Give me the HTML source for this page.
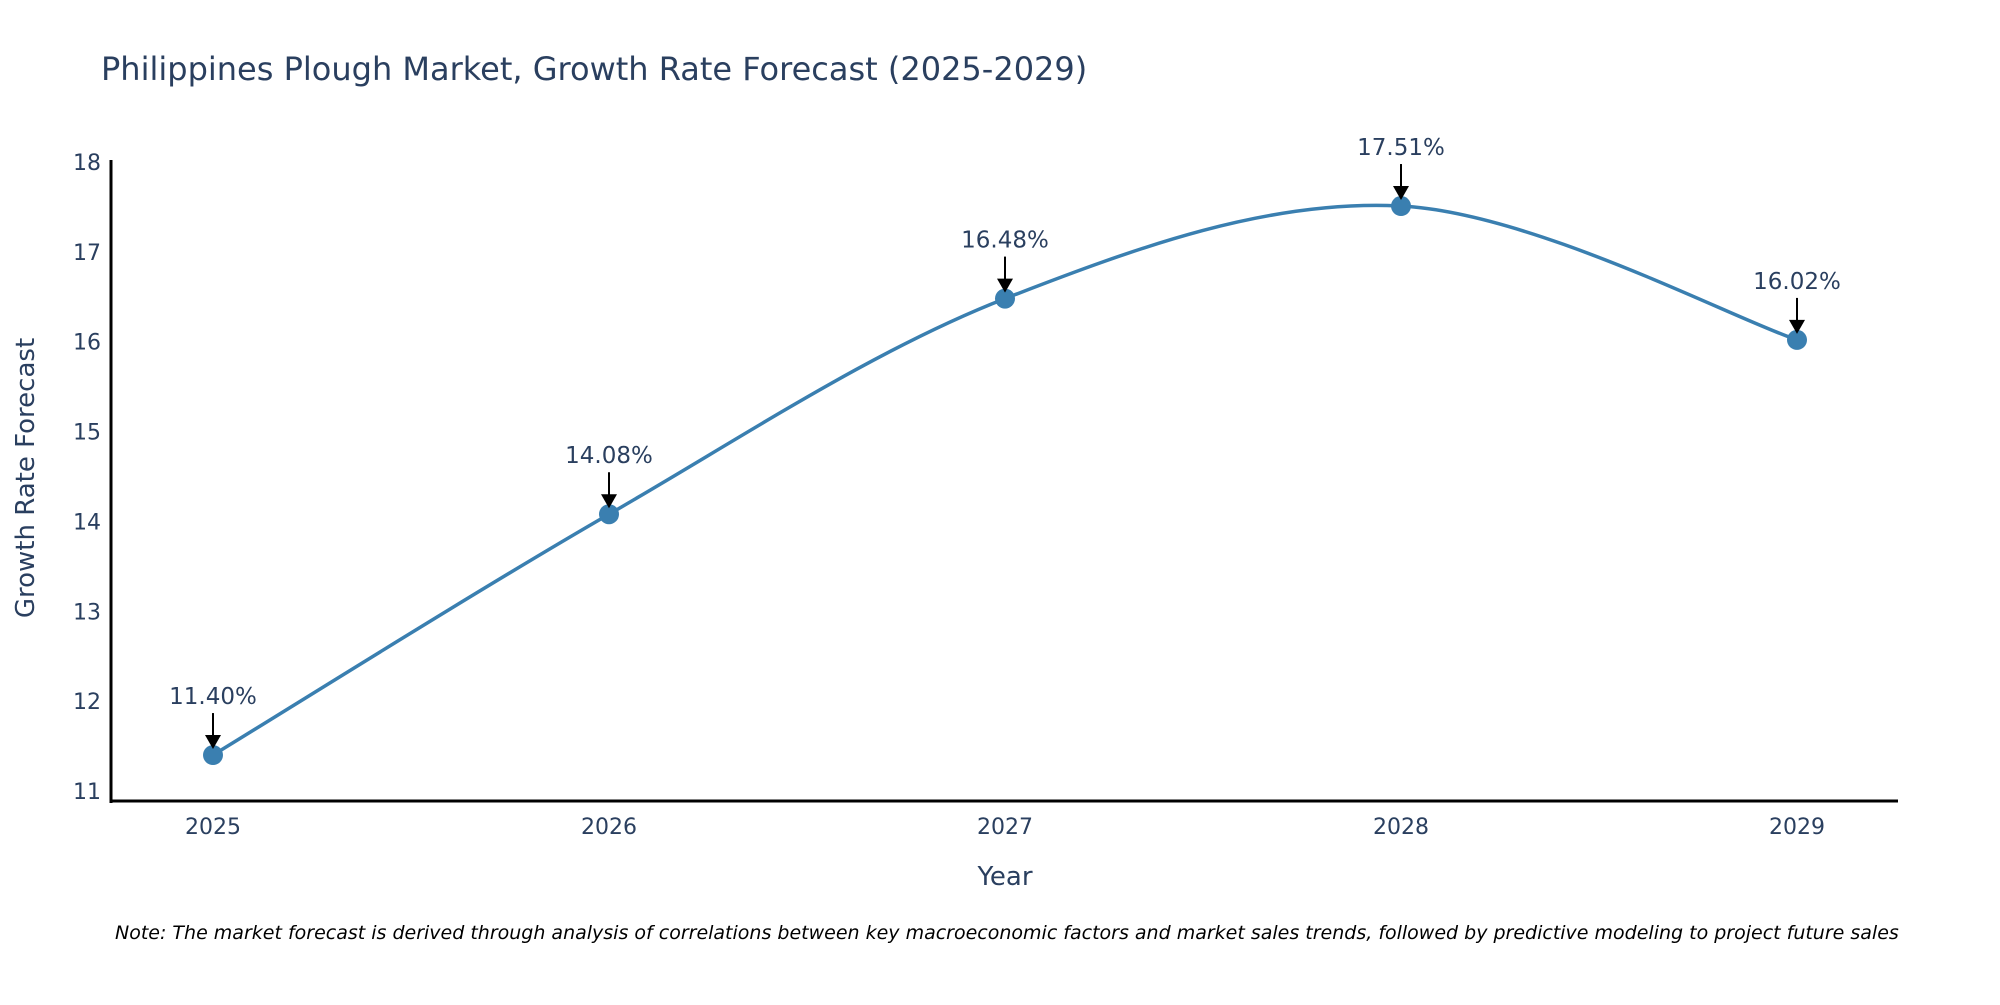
<!DOCTYPE html>
<html><head><meta charset="utf-8"><style>
body{margin:0;background:#fff;width:2000px;height:1000px;overflow:hidden;}
svg text{font-family:"DejaVu Sans","Liberation Sans",sans-serif;}
</style></head><body>
<svg id="chart" width="2000" height="1000" xmlns="http://www.w3.org/2000/svg">
<text x="101" y="80" font-size="32" fill="#2a3f5f">Philippines Plough Market, Growth Rate Forecast (2025-2029)</text>
<g id="yticks"></g>
<g id="xticks"></g>
<line x1="111" y1="160" x2="111" y2="803" stroke="#000" stroke-width="3"/>
<line x1="110" y1="801" x2="1898" y2="801" stroke="#000" stroke-width="3"/>
<text transform="translate(34,478) rotate(-90)" text-anchor="middle" font-size="26" fill="#2a3f5f">Growth Rate Forecast</text>
<text x="1005" y="885" text-anchor="middle" font-size="26" fill="#2a3f5f">Year</text>
<g id="series"></g>
<text x="115" y="939" font-size="19" font-style="italic" fill="#000">Note: The market forecast is derived through analysis of correlations between key macroeconomic factors and market sales trends, followed by predictive modeling to project future sales</text>
</svg>
<script>
const categories = ["2025","2026","2027","2028","2029"];
const values = [11.40, 14.08, 16.48, 17.51, 16.02];
const labels = ["11.40%","14.08%","16.48%","17.51%","16.02%"];
const yTicks = [11,12,13,14,15,16,17,18];

const NS="http://www.w3.org/2000/svg";
const x0=213, dx=396;
function xPos(i){return x0+i*dx;}
function yPos(v){return 791-(v-11)*(791-162)/7;}
function mk(tag,attrs,parent){const e=document.createElementNS(NS,tag);for(const k in attrs)e.setAttribute(k,attrs[k]);parent.appendChild(e);return e;}

const yg=document.getElementById('yticks');
yTicks.forEach(t=>{
  const e=mk('text',{x:101,y:yPos(t)+8,'text-anchor':'end','font-size':22,fill:'#2a3f5f'},yg);
  
  
  e.textContent=t;
});
const xg=document.getElementById('xticks');
categories.forEach((c,i)=>{
  const e=mk('text',{x:xPos(i),y:834,'text-anchor':'middle','font-size':22,fill:'#2a3f5f'},xg);
  
  
  e.textContent=c;
});

const sg=document.getElementById('series');
const pts=values.map((v,i)=>[xPos(i),yPos(v)]);
let d=`M${pts[0][0]},${pts[0][1]}`;
const s=1/6;
for(let i=0;i<pts.length-1;i++){
  const p0=pts[Math.max(i-1,0)],p1=pts[i],p2=pts[i+1],p3=pts[Math.min(i+2,pts.length-1)];
  const c1=[p1[0]+(p2[0]-p0[0])*s,p1[1]+(p2[1]-p0[1])*s];
  const c2=[p2[0]-(p3[0]-p1[0])*s,p2[1]-(p3[1]-p1[1])*s];
  d+=` C${c1[0]},${c1[1]} ${c2[0]},${c2[1]} ${p2[0]},${p2[1]}`;
}
const line=mk('path',{d:d,fill:'none',stroke:'#3a7fb0','stroke-width':3.5},sg);



pts.forEach((p,i)=>{
  const c=mk('circle',{cx:p[0],cy:p[1],r:10,fill:'#3a7fb0'},sg);
  
  
  const a=mk('line',{x1:p[0],y1:p[1]-42,x2:p[0],y2:p[1]-16,stroke:'#000','stroke-width':2},sg);
  
  
  const h=mk('polygon',{points:`${p[0]-8},${p[1]-20} ${p[0]+8},${p[1]-20} ${p[0]},${p[1]-6}`,fill:'#000'},sg);
  
  
  const t=mk('text',{x:p[0],y:p[1]-51,'text-anchor':'middle','font-size':23,fill:'#2a3f5f'},sg);
  
  
  t.textContent=labels[i];
});
</script>
</body></html>
